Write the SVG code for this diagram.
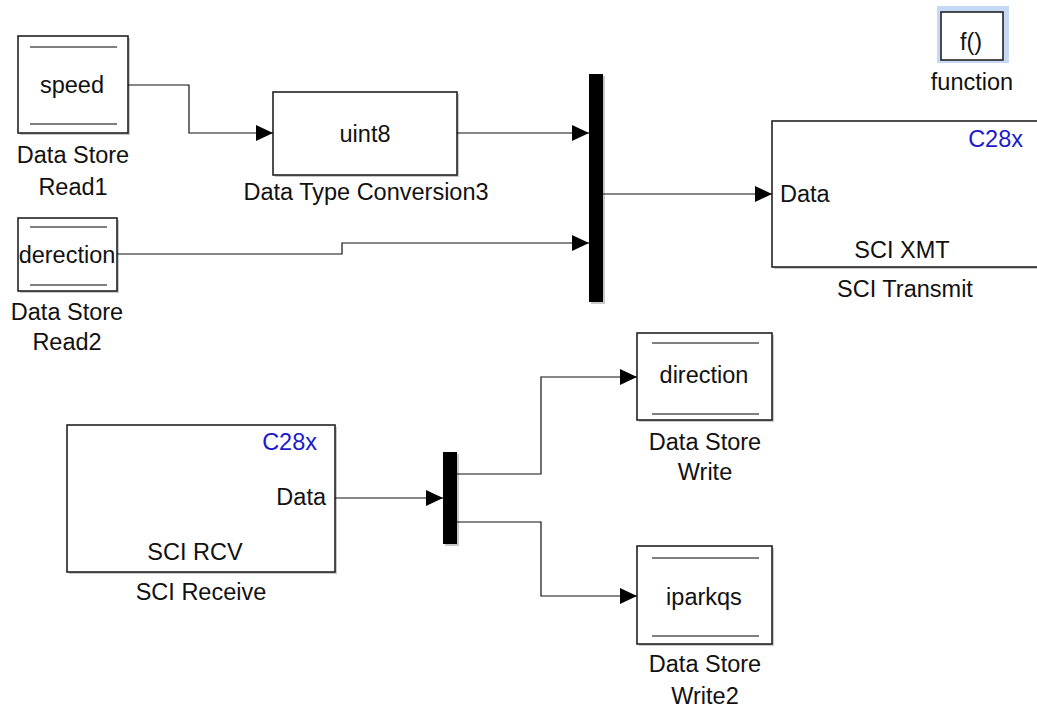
<svg xmlns="http://www.w3.org/2000/svg" width="1037" height="709" viewBox="0 0 1037 709">
  <defs>
    <marker id="arrow" markerUnits="userSpaceOnUse" markerWidth="18" markerHeight="16" refX="17" refY="8" orient="auto">
      <path d="M0,0 L17,8 L0,16 Z" fill="#000"/>
    </marker>
  </defs>
  <style>
    text { font-family: "Liberation Sans", Arial, sans-serif; font-size: 23.5px; fill: #111; }
    .mid { text-anchor: middle; }
    .end { text-anchor: end; }
    .blue { fill: #1a1acc; }
    .blk { fill: #fff; stroke: #222; stroke-width: 1.6; }
    .shadow { fill: #c8c8c8; }
    .rule { stroke: #555; stroke-width: 1.4; }
    .bar { fill: #000; }
    .wire { fill: none; stroke: #111; stroke-width: 1.2; }
  </style>
  <rect width="1037" height="709" fill="#fff"/>

  <!-- Data Store Read1 -->
  <g id="ds-read1">
    <rect class="shadow" x="20" y="38" width="110" height="97"/>
    <rect class="blk" x="18" y="36" width="110" height="97"/>
    <line class="rule" x1="30" y1="47" x2="117" y2="47"/>
    <line class="rule" x1="30" y1="124" x2="117" y2="124"/>
    <text class="mid" x="72" y="93">speed</text>
    <text class="mid" x="73" y="163">Data Store</text>
    <text class="mid" x="73" y="195">Read1</text>
  </g>

  <!-- Data Store Read2 -->
  <g id="ds-read2">
    <rect class="shadow" x="20" y="220" width="99" height="73"/>
    <rect class="blk" x="18" y="218" width="99" height="73"/>
    <line class="rule" x1="30" y1="227" x2="107" y2="227"/>
    <line class="rule" x1="30" y1="285" x2="107" y2="285"/>
    <text class="mid" x="67" y="263">derection</text>
    <text class="mid" x="67" y="320">Data Store</text>
    <text class="mid" x="67" y="350">Read2</text>
  </g>

  <!-- Function-call subsystem -->
  <g id="function">
    <rect x="937" y="6" width="72" height="57" fill="#c5d9f5"/>
    <rect class="blk" x="941" y="12" width="62" height="48"/>
    <text class="mid" x="971" y="50">f()</text>
    <text class="mid" x="972" y="90">function</text>
  </g>

  <!-- Data Type Conversion3 -->
  <g id="dtc3">
    <rect class="shadow" x="275" y="94" width="184" height="83"/>
    <rect class="blk" x="273" y="92" width="184" height="83"/>
    <text class="mid" x="365" y="142">uint8</text>
    <text class="mid" x="366" y="200">Data Type Conversion3</text>
  </g>

  <!-- Mux -->
  <g id="mux">
    <rect class="shadow" x="591" y="76" width="14" height="228"/>
    <rect class="bar" x="589" y="74" width="14" height="228"/>
  </g>

  <!-- SCI Transmit -->
  <g id="sci-transmit">
    <rect class="shadow" x="774" y="123" width="270" height="146"/>
    <rect class="blk" x="772" y="121" width="270" height="146"/>
    <text class="end blue" x="1023" y="147">C28x</text>
    <text x="780" y="202">Data</text>
    <text class="mid" x="902" y="258">SCI XMT</text>
    <text class="mid" x="905" y="297">SCI Transmit</text>
  </g>

  <!-- SCI Receive -->
  <g id="sci-receive">
    <rect class="shadow" x="69" y="427" width="268" height="147"/>
    <rect class="blk" x="67" y="425" width="268" height="147"/>
    <text class="end blue" x="317" y="450">C28x</text>
    <text class="end" x="326" y="505">Data</text>
    <text class="mid" x="195" y="560">SCI RCV</text>
    <text class="mid" x="201" y="600">SCI Receive</text>
  </g>

  <!-- Demux -->
  <g id="demux">
    <rect class="shadow" x="445" y="454" width="14" height="92"/>
    <rect class="bar" x="443" y="452" width="14" height="92"/>
  </g>

  <!-- Data Store Write -->
  <g id="ds-write">
    <rect class="shadow" x="639" y="335" width="135" height="87"/>
    <rect class="blk" x="637" y="333" width="135" height="87"/>
    <line class="rule" x1="652" y1="343" x2="759" y2="343"/>
    <line class="rule" x1="652" y1="414" x2="759" y2="414"/>
    <text class="mid" x="704" y="383">direction</text>
    <text class="mid" x="705" y="450">Data Store</text>
    <text class="mid" x="705" y="480">Write</text>
  </g>

  <!-- Data Store Write2 -->
  <g id="ds-write2">
    <rect class="shadow" x="639" y="548" width="135" height="98"/>
    <rect class="blk" x="637" y="546" width="135" height="98"/>
    <line class="rule" x1="652" y1="558" x2="759" y2="558"/>
    <line class="rule" x1="652" y1="636" x2="759" y2="636"/>
    <text class="mid" x="704" y="605">iparkqs</text>
    <text class="mid" x="705" y="672">Data Store</text>
    <text class="mid" x="705" y="704">Write2</text>
  </g>

  <!-- Signal lines -->
  <g id="connectors">
    <polyline class="wire" points="128,85 189,85 189,133 273,133" marker-end="url(#arrow)"/>
    <polyline class="wire" points="457,133 589,133" marker-end="url(#arrow)"/>
    <polyline class="wire" points="117,254 342,254 342,243 589,243" marker-end="url(#arrow)"/>
    <polyline class="wire" points="603,194 772,194" marker-end="url(#arrow)"/>
    <polyline class="wire" points="335,498 443,498" marker-end="url(#arrow)"/>
    <polyline class="wire" points="457,474 541,474 541,377 637,377" marker-end="url(#arrow)"/>
    <polyline class="wire" points="457,522 541,522 541,596 637,596" marker-end="url(#arrow)"/>
  </g>
</svg>
